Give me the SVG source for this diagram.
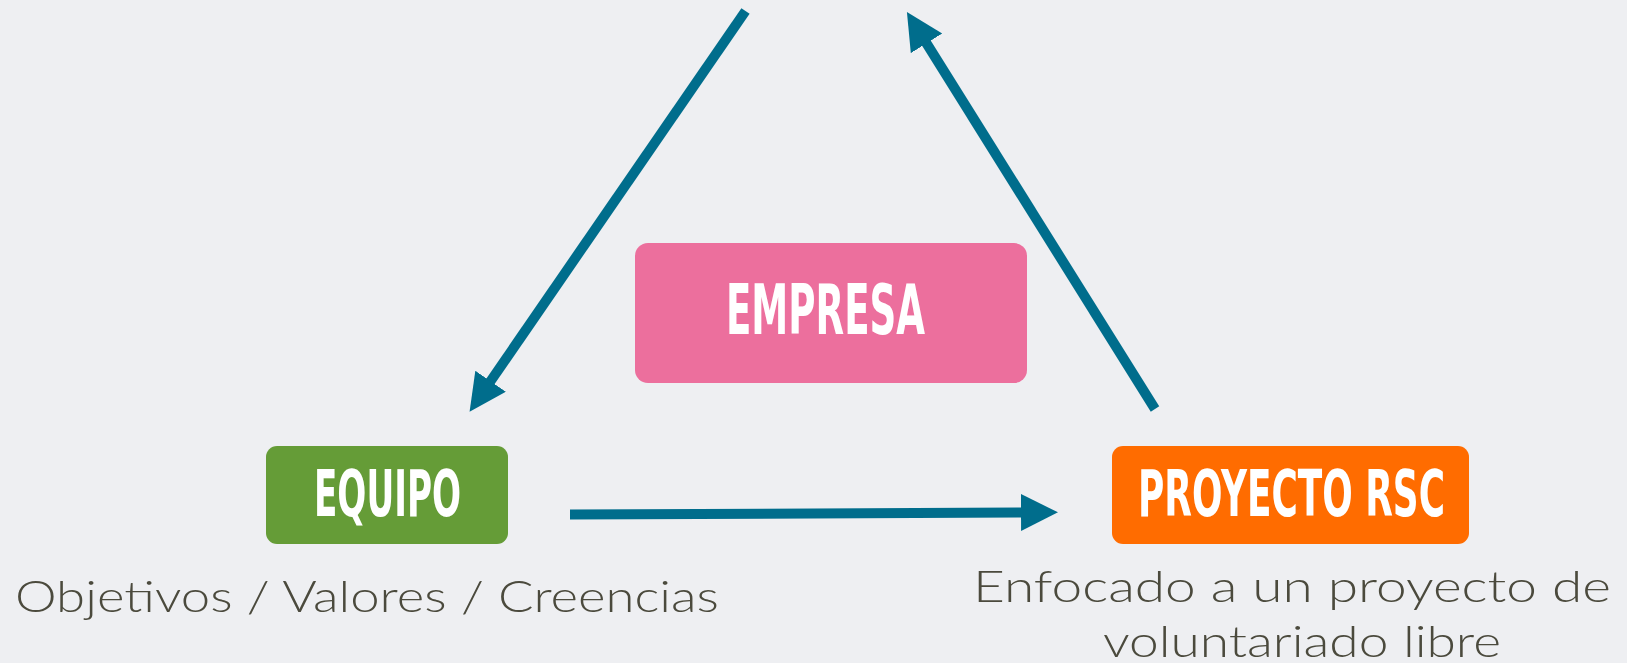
<svg xmlns="http://www.w3.org/2000/svg" width="1627" height="663" viewBox="0 0 1627 663">
  <style>
    .box-label { font-family: "Liberation Sans Narrow", "DejaVu Sans Condensed", Roboto, sans-serif; font-weight: bold; fill: #ffffff; }
    .caption { font-family: Lato, "Open Sans", "Liberation Sans", sans-serif; font-weight: 300; font-size: 44px; fill: #4b4a3d; }
    .conn { stroke: #006d8c; stroke-width: 10; fill: none; marker-end: url(#head); }
  </style>
  <defs>
    <marker id="head" markerUnits="userSpaceOnUse" markerWidth="40" markerHeight="40" refX="1" refY="18.5" orient="auto">
      <path d="M0,0 L37,18.5 L0,37 Z" fill="#006d8c"/>
    </marker>
  </defs>
  <rect x="0" y="0" width="1627" height="663" fill="#eeeff2"/>

  <g id="connectors">
    <line class="conn" x1="745.5" y1="11" x2="490" y2="382"/>
    <line class="conn" x1="1155" y1="409" x2="926" y2="42.5"/>
    <line class="conn" x1="570" y1="514.5" x2="1022" y2="512.5"/>
  </g>

  <g id="empresa">
    <rect x="635" y="243" width="392" height="140" rx="13" fill="#ec6f9d"/>
    <text class="box-label" x="726" y="334" font-size="70" textLength="199" lengthAdjust="spacingAndGlyphs">EMPRESA</text>
  </g>

  <g id="equipo">
    <rect x="266" y="446" width="242" height="98" rx="11" fill="#659c37"/>
    <text class="box-label" x="314" y="516" font-size="64" textLength="147" lengthAdjust="spacingAndGlyphs">EQUIPO</text>
  </g>

  <g id="proyecto-rsc">
    <rect x="1112" y="446" width="357" height="98" rx="11" fill="#ff6c00"/>
    <text class="box-label" x="1138" y="516" font-size="64" textLength="307" lengthAdjust="spacingAndGlyphs">PROYECTO RSC</text>
  </g>

  <g id="equipo-caption">
    <text class="caption" x="15" y="612" textLength="704" lengthAdjust="spacingAndGlyphs">Objetivos / Valores / Creencias</text>
  </g>

  <g id="proyecto-caption">
    <text class="caption" x="1292" y="602" text-anchor="middle" textLength="638" lengthAdjust="spacingAndGlyphs">Enfocado a un proyecto de</text>
    <text class="caption" x="1302" y="657" text-anchor="middle" textLength="398" lengthAdjust="spacingAndGlyphs">voluntariado libre</text>
  </g>
</svg>
